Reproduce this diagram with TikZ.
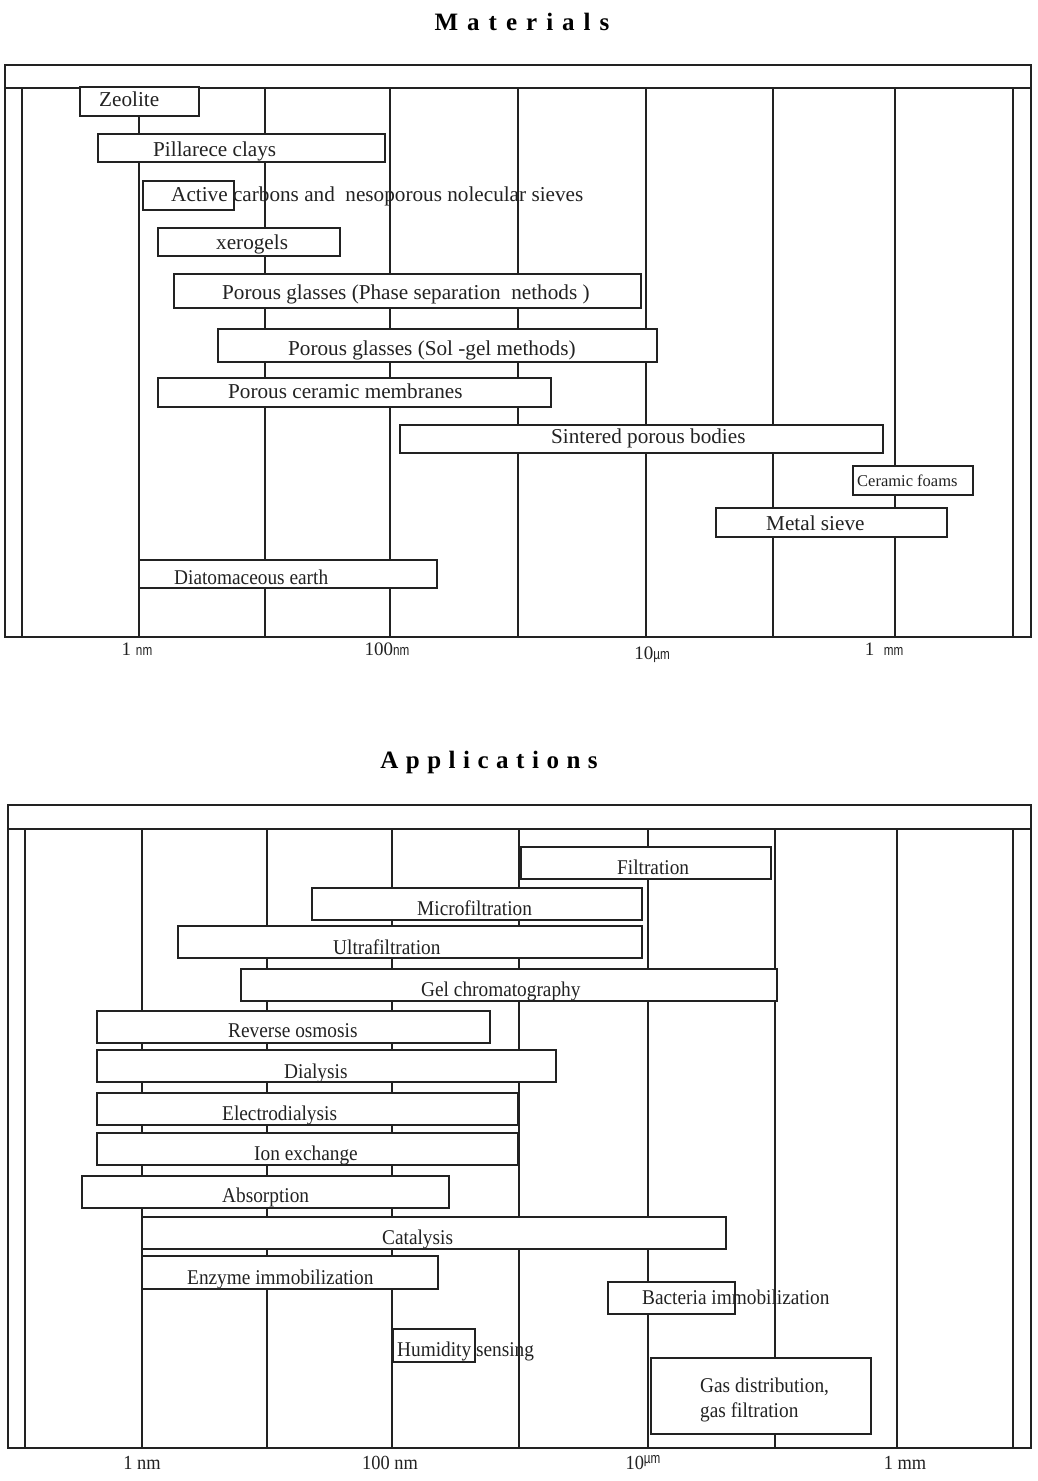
\documentclass[tikz,border=0pt]{standalone}
\usepackage{fontspec}
\setmainfont{Liberation Serif}
\newfontfamily\condserif[FakeStretch=0.92]{Liberation Serif}
\newfontfamily\narrowsans[FakeStretch=0.78]{Liberation Sans}
\usetikzlibrary{fit}
\definecolor{ink}{HTML}{222222}
\tikzset{
  frameline/.style={draw=ink, line width=1.8pt},
  gridline/.style={draw=ink, line width=1.3pt},
  barbox/.style={draw=ink, fill=white, line width=1.5pt, inner sep=0pt, outer sep=0pt},
  toptext/.style={font=\fontsize{21.2}{24}\selectfont, text=ink, inner sep=0pt, anchor=mid west, yshift=-3pt},
  bottext/.style={font=\condserif\fontsize{21}{24}\selectfont, text=ink, inner sep=0pt, anchor=mid west, yshift=-3pt},
  axistext/.style={font=\fontsize{19}{22}\selectfont, text=ink, inner sep=0pt, anchor=mid},
  titletext/.style={font=\bfseries\fontsize{25}{28}\selectfont, text=black, inner sep=0pt},
}
\newcommand\mybox[5]{\node[barbox, fit={(#2,#3) (#4,#5)}] (#1) {};}
\newcommand\nmunit[1]{{\narrowsans\fontsize{15}{17}\selectfont #1}}
\begin{document}
\begin{tikzpicture}[x=1pt,y=-1pt]
\useasboundingbox[fill=white] (0,0) rectangle (1038,1481);

% ---------------- Materials ----------------
\node[titletext] (mattitle) at (522,22) {M\kern9pt a\kern9pt t\kern9pt e\kern9pt r\kern9pt i\kern9pt a\kern9pt l\kern9pt s};

\foreach \x in {139,265,390,518,646,773,895} \draw[gridline] (\x,88) -- (\x,637);
\draw[frameline] (5,65) rectangle (1031,637);
\draw[frameline] (5,88) -- (1031,88);
\draw[frameline] (22,88) -- (22,637);
\draw[frameline] (1013,88) -- (1013,637);

\mybox{zeo}{80}{87}{199}{116}
\mybox{pill}{98}{134}{385}{162}
\mybox{actc}{143}{181}{234}{210}
\mybox{xero}{158}{228}{340}{256}
\mybox{pgps}{174}{274}{641}{308}
\mybox{pgsg}{218}{329}{657}{362}
\mybox{pcm}{158}{378}{551}{407}
\mybox{spb}{400}{425}{883}{453}
\mybox{cf}{853}{466}{973}{495}
\mybox{ms}{716}{508}{947}{537}
\mybox{de}{139}{560}{437}{588}

\node[toptext] (zeo-t) at (99,101) {Zeolite};
\node[toptext] (pill-t) at (153,151) {Pillarece clays};
\node[toptext] (actc-t) at (171,196) {Active carbons and\ \ nesoporous nolecular sieves};
\node[toptext] (xero-t) at (216,244) {xerogels};
\node[toptext] (pgps-t) at (222,294) {Porous glasses (Phase separation\ \ nethods )};
\node[toptext] (pgsg-t) at (288,350) {Porous glasses (Sol -gel methods)};
\node[toptext] (pcm-t) at (228,393) {Porous ceramic membranes};
\node[toptext] (spb-t) at (551,438) {Sintered porous bodies};
\node[toptext, font=\fontsize{16.5}{20}\selectfont] (cf-t) at (857,481) {Ceramic foams};
\node[toptext] (ms-t) at (766,525) {Metal sieve};
\node[toptext, font=\condserif\fontsize{21}{24}\selectfont] (de-t) at (174,579) {Diatomaceous earth};

\node[axistext] (ax1) at (137,653) {1 \nmunit{nm}};
\node[axistext] (ax2) at (387,653) {100\nmunit{nm}};
\node[axistext] (ax3) at (652,657) {10\nmunit{\textmu m}};
\node[axistext] (ax4) at (884,653) {1 \ \nmunit{mm}};

% ---------------- Applications ----------------
\node[titletext] (apptitle) at (489,762) {A\kern7.5pt p\kern7.5pt p\kern7.5pt l\kern7.5pt i\kern7.5pt c\kern7.5pt a\kern7.5pt t\kern7.5pt i\kern7.5pt o\kern7.5pt n\kern7.5pt s};

\foreach \x in {142,267,392,519,648,775,897} \draw[gridline] (\x,829) -- (\x,1448);
\draw[frameline] (8,805) rectangle (1031,1448);
\draw[frameline] (8,829) -- (1031,829);
\draw[frameline] (25,829) -- (25,1448);
\draw[frameline] (1013,829) -- (1013,1448);

\mybox{filt}{521}{847}{771}{879}
\mybox{micro}{312}{888}{642}{920}
\mybox{ultra}{178}{926}{642}{958}
\mybox{gel}{241}{969}{777}{1001}
\mybox{ro}{97}{1011}{490}{1043}
\mybox{dial}{97}{1050}{556}{1082}
\mybox{edial}{97}{1093}{518}{1125}
\mybox{ionx}{97}{1133}{518}{1165}
\mybox{absorp}{82}{1176}{449}{1208}
\mybox{catal}{142}{1217}{726}{1249}
\mybox{enzyme}{142}{1256}{438}{1289}
\mybox{bact}{608}{1282}{735}{1314}
\mybox{humid}{393}{1329}{475}{1362}
\mybox{gas}{651}{1358}{871}{1434}

\node[bottext] (filt-t) at (617,869) {Filtration};
\node[bottext] (micro-t) at (417,910) {Microfiltration};
\node[bottext] (ultra-t) at (333,949) {Ultrafiltration};
\node[bottext] (gel-t) at (421,991) {Gel chromatography};
\node[bottext] (ro-t) at (228,1032) {Reverse osmosis};
\node[bottext] (dial-t) at (284,1073) {Dialysis};
\node[bottext] (edial-t) at (222,1115) {Electrodialysis};
\node[bottext] (ionx-t) at (254,1155) {Ion exchange};
\node[bottext] (absorp-t) at (222,1197) {Absorption};
\node[bottext] (catal-t) at (382,1239) {Catalysis};
\node[bottext] (enzyme-t) at (187,1279) {Enzyme immobilization};
\node[bottext] (bact-t) at (642,1299) {Bacteria immobilization};
\node[bottext] (humid-t) at (397,1351) {Humidity sensing};
\node[bottext] (gas-t1) at (700,1387) {Gas distribution,};
\node[bottext] (gas-t2) at (700,1412) {gas filtration};

\node[axistext, font=\condserif\fontsize{20}{22}\selectfont] (bx1) at (142,1467) {1 nm};
\node[axistext, font=\condserif\fontsize{20}{22}\selectfont] (bx2) at (390,1467) {100 nm};
\node[axistext, font=\condserif\fontsize{20}{22}\selectfont] (bx3) at (643,1467) {10\raisebox{6pt}{\nmunit{\textmu m}}};
\node[axistext, font=\condserif\fontsize{20}{22}\selectfont] (bx4) at (905,1467) {1 mm};
\end{tikzpicture}
\end{document}
